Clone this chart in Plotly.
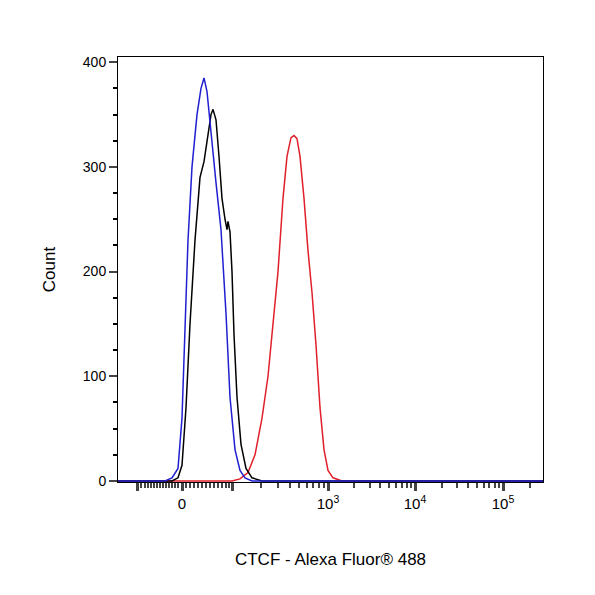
import math
import plotly.graph_objects as go

# display channel units (biexponential scale drawn as linear display positions)
blue_x = [118, 165, 172, 178, 182, 185, 188, 192, 197, 201, 204, 207, 211, 216, 221, 226, 230, 235, 240, 245, 252, 543]
blue_y = [0, 0, 3, 12, 60, 150, 230, 300, 350, 375, 385, 372, 330, 285, 240, 160, 80, 30, 10, 3, 0, 0]
black_x = [118, 172, 178, 182, 186, 190, 195, 200, 204, 208, 211, 213, 216, 219, 222, 225, 227, 228, 230, 232, 234, 237, 241, 246, 252, 262, 543]
black_y = [0, 0, 3, 15, 70, 150, 230, 290, 305, 330, 350, 355, 345, 310, 270, 250, 240, 248, 238, 200, 140, 80, 35, 12, 3, 0, 0]
red_x = [118, 232, 240, 248, 255, 262, 268, 273, 278, 283, 287, 291, 294, 297, 300, 304, 308, 312, 316, 320, 324, 328, 333, 342, 543]
red_y = [0, 0, 2, 8, 25, 60, 100, 150, 200, 270, 310, 328, 330, 327, 310, 270, 220, 180, 130, 70, 30, 10, 3, 0, 0]

major_pos = [137, 182, 232, 328, 415, 503]
major_txt = ["", "0", "", "10<sup>3</sup>", "10<sup>4</sup>", "10<sup>5</sup>"]
minor_pos = [141, 145, 148, 151, 154, 157, 160, 163, 166, 169, 172, 175, 178, 186, 190, 194, 198, 202, 206, 210, 214, 218, 222, 226, 229]
for a, b in [(232, 328), (328, 415), (415, 503), (503, 591)]:
    for k in range(2, 10):
        p = a + (b - a) * math.log10(k)
        if p < 543:
            minor_pos.append(round(p, 1))

fig = go.Figure()
fig.add_trace(go.Scatter(x=red_x, y=red_y, mode="lines", line=dict(color="#e0202a", width=1.5)))
fig.add_trace(go.Scatter(x=black_x, y=black_y, mode="lines", line=dict(color="black", width=1.5)))
fig.add_trace(go.Scatter(x=blue_x, y=blue_y, mode="lines", line=dict(color="#2020d0", width=1.5)))
fig.add_trace(go.Scatter(x=[118], y=[0], xaxis="x2", mode="markers", marker=dict(opacity=0), hoverinfo="skip"))

fig.update_layout(
    width=595, height=595, showlegend=False,
    plot_bgcolor="white", paper_bgcolor="white",
    margin=dict(l=110, r=60, t=49, b=121),
    font=dict(family="Liberation Sans, Arial", size=14, color="black"),
    xaxis=dict(range=[118, 543], tickvals=major_pos, ticktext=major_txt, ticks="outside",
               ticklen=8, tickwidth=3, showgrid=False, zeroline=False, showline=True,
               linecolor="black", mirror=True, tickfont=dict(size=15),
               title=dict(text="CTCF - Alexa Fluor® 488", standoff=42)),
    xaxis2=dict(range=[118, 543], overlaying="x", side="bottom", tickvals=minor_pos,
                showticklabels=False, ticks="outside", ticklen=5, tickwidth=2,
                showgrid=False, zeroline=False, anchor="y"),
    yaxis=dict(range=[-1, 405], tickvals=[0, 100, 200, 300, 400], ticks="outside",
               ticklen=8, tickwidth=2, showgrid=False, zeroline=False, showline=True,
               linecolor="black", mirror=True,
               minor=dict(dtick=25, ticks="outside", ticklen=4, tickcolor="black"),
               title=dict(text="Count", standoff=22)),
)
fig.write_html("out.html")
